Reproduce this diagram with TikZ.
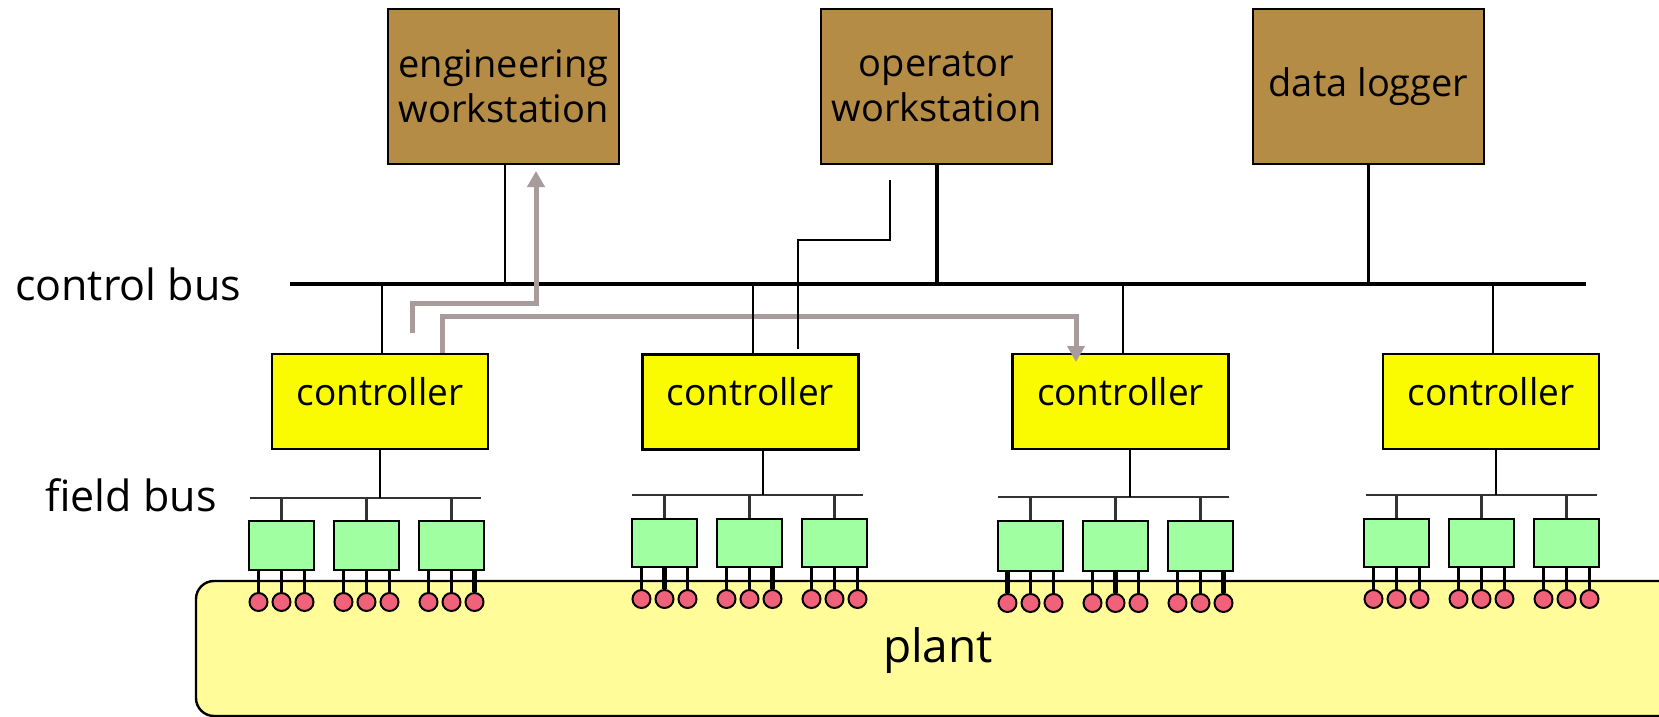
\documentclass[tikz,border=0pt]{standalone}
\usepackage{fontspec}
\setmainfont{Open Sans}
\usetikzlibrary{arrows.meta}
\definecolor{wsbrown}{RGB}{181,140,70}
\definecolor{ctrlyellow}{RGB}{250,250,0}
\definecolor{iogreen}{RGB}{160,255,160}
\definecolor{plantyellow}{RGB}{255,252,153}
\definecolor{pinred}{RGB}{240,98,122}
\definecolor{flowgrey}{RGB}{168,155,155}
\begin{document}
\begin{tikzpicture}[x=0.5pt,y=-0.5pt,
  wsbox/.style={draw=black,line width=1.2pt,fill=wsbrown,minimum width=115.5pt,minimum height=77.5pt,inner sep=0pt,align=center,font=\fontsize{19}{22.5}\selectfont},
  ctrlbox/.style={draw=black,line width=1.2pt,fill=ctrlyellow,minimum width=108pt,minimum height=47.5pt,inner sep=0pt,font=\fontsize{18.5}{22}\selectfont,text height=12pt,text depth=8.5pt},
  iobox/.style={draw=black,line width=1.2pt,fill=iogreen,minimum width=32.5pt,inner sep=0pt},
  pinnode/.style={circle,draw=black,line width=1pt,fill=pinred,minimum size=9pt,inner sep=0pt},
  busline/.style={line width=1.6pt},
  dropline/.style={line width=1.3pt},
  oplink/.style={line width=0.9pt},
  fieldbus/.style={line width=1.2pt,draw=black!80},
  pinline/.style={line width=1.1pt},
  boldpin/.style={line width=2.4pt},
  flow/.style={draw=flowgrey,line width=2.5pt,-{Triangle[length=8pt,width=8.5pt]}},
  label/.style={font=\fontsize{21.5}{24}\selectfont,inner sep=0pt}
]
\useasboundingbox (0,0) rectangle (1659,717);

% plant
\path[draw=black,line width=1.2pt,fill=plantyellow,rounded corners=9pt] (196,581) rectangle (1740,716);
\node[font=\fontsize{23}{26}\selectfont,inner sep=0pt] (plantlabel) at (938,651) {plant};

% top level stations
\node[wsbox] (ews) at (503.5,86.5) {engineering\\workstation};
\node[wsbox] (ows) at (936.5,86.5) {operator\\workstation};
\node[wsbox] (dlg) at (1368.5,86.5) {data logger};

% controllers
\node[ctrlbox] (c1) at (380,401.5) {controller};
\node[ctrlbox] (c2) at (750.5,402) {controller};
\node[ctrlbox] (c3) at (1120.5,401.5) {controller};
\node[ctrlbox] (c4) at (1491,401.5) {controller};

% bus labels
\node[label] (cblabel) at (128,284) {control bus};
\node[label] (fblabel) at (131,495) {field bus};

% control bus
\coordinate (cbL) at (290,284);
\coordinate (cbR) at (1586,284);
\draw[busline] (cbL) -- (cbR);

% grey flows
\coordinate (g1s) at (412,333);
\coordinate (g1e) at (536,171);
\draw[flow] (g1s) -- ++(0,-30) -| (g1e);
\coordinate (g2x) at (442,0);
\coordinate (g2e) at (1076,362);
\draw[flow] (c1.north -| g2x) -- ++(0,-36) -| (g2e);

% station drops
\draw[dropline] (ews.south -| 505,0) -- (505,284);
\draw[line width=1.7pt] (ows.south -| 937,0) -- (937,284);
\draw[dropline] (dlg.south) -- (dlg.south |- cbL);

% controller drops
\foreach \k/\xx in {1/382,2/753,3/1123,4/1493}{
  \coordinate (cbd\k) at (\xx,284);
  \draw[dropline] (cbd\k) -- (cbd\k |- c\k.north);
}

% operator thin link
\coordinate (opA) at (890,180);
\coordinate (opB) at (798,349);
\draw[oplink] (opA) -- ++(0,60) -| (opB);

% field groups
\foreach \g/\L/\T/\B/\Y/\bl/\br/\dx in {1/249/521/570/498/250/481/380, 2/632/519/567/495/632/863/763, 3/998/521/571/497/998/1229/1130, 4/1364/519/567/495/1366/1597/1496}{
  \coordinate (fbl\g) at (\bl,\Y);
  \coordinate (fbr\g) at (\br,\Y);
  \coordinate (fbd\g) at (\dx,\Y);
  \draw[fieldbus] (fbl\g) -- (fbr\g);
  \draw[dropline] (c\g.south -| fbd\g) -- (fbd\g);
  \pgfmathsetmacro\hh{(\B-\T)*0.5}
  \pgfmathsetmacro\cyy{(\T+\B)/2}
  \pgfmathsetmacro\py{\B+32}
  \foreach \i in {1,2,3}{
    \pgfmathsetmacro\cx{\L+32.5+85*(\i-1)}
    \node[iobox,minimum height=\hh pt] (io\g\i) at (\cx,\cyy) {};
    \draw[fieldbus] (io\g\i.north) -- (io\g\i.north |- fbl\g);
    \foreach \j in {1,2,3}{
      \node[pinnode] (p\g\i\j) at (\cx+23*\j-46,\py) {};
      \draw[pinline] (io\g\i.south -| p\g\i\j) -- (p\g\i\j.north);
    }
  }
}

% bold pin leads
\foreach \n in {133,212,223,311,322,333}{
  \draw[boldpin] (p\n.north) -- ++(0,-23);
}
\end{tikzpicture}
\end{document}
